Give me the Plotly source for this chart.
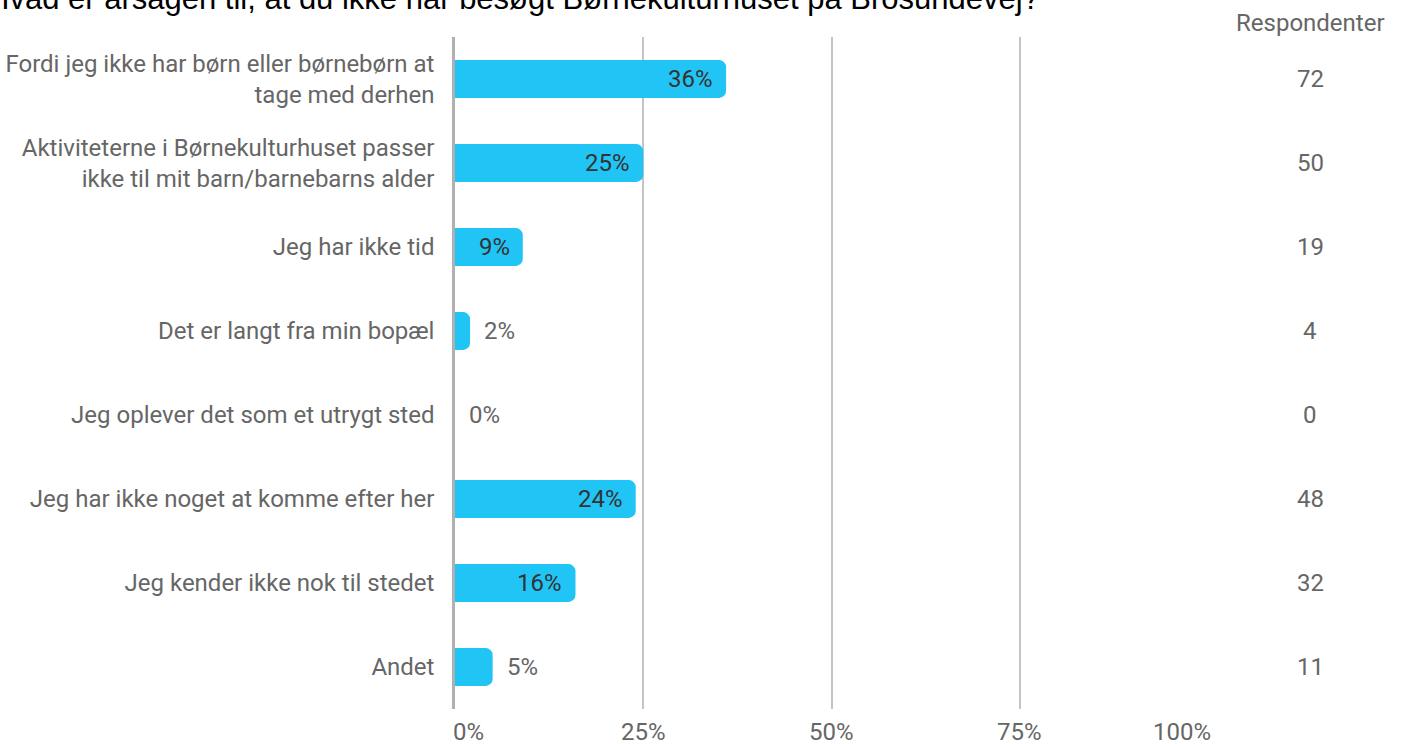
import plotly.graph_objects as go

categories = [
    "Fordi jeg ikke har børn eller børnebørn at<br>tage med derhen",
    "Aktiviteterne i Børnekulturhuset passer<br>ikke til mit barn/barnebarns alder",
    "Jeg har ikke tid",
    "Det er langt fra min bopæl",
    "Jeg oplever det som et utrygt sted",
    "Jeg har ikke noget at komme efter her",
    "Jeg kender ikke nok til stedet",
    "Andet",
]
percent = [36, 25, 9, 2, 0, 24, 16, 5]
respondents = [72, 50, 19, 4, 0, 48, 32, 11]
x_ticks = [0, 25, 50, 75, 100]
x_tick_labels = ["0%", "25%", "50%", "75%", "100%"]
title_text = "Hvad er årsagen til, at du ikke har besøgt Børnekulturhuset på Brosundevej?"

BAR = "#21c5f5"
GREY = "#666666"
FONT = "Roboto"
FS = 24

plot_l, plot_r, plot_t, plot_b = 455, 1208, 37, 709
w = plot_r - plot_l
h = plot_b - plot_t
resp_x = (1310 - plot_l) / w

fig = go.Figure()
fig.add_trace(go.Bar(
    y=categories, x=percent, orientation="h",
    marker=dict(color=BAR, cornerradius=7, line=dict(width=0)),
    width=0.45, hoverinfo="skip",
))

annotations = []
for c, p in zip(categories, percent):
    inside = p >= 9
    annotations.append(dict(
        x=p, y=c, xref="x", yref="y", text=f"{p}%", showarrow=False,
        xanchor="right" if inside else "left",
        xshift=-11 if inside else 12,
        font=dict(family=FONT, size=FS, color="#333333" if inside else GREY),
    ))
for c, r in zip(categories, respondents):
    annotations.append(dict(
        x=resp_x, y=c, xref="paper", yref="y", text=str(r), showarrow=False,
        xanchor="center", font=dict(family=FONT, size=FS, color=GREY),
    ))
# x-axis tick labels: first left-aligned, last right-aligned, others centred
for i, (tv, tl) in enumerate(zip(x_ticks, x_tick_labels)):
    anchor = "left" if i == 0 else ("right" if i == len(x_ticks) - 1 else "center")
    annotations.append(dict(
        x=tv, y=-(732 - plot_b) / h, xref="x", yref="paper", text=tl,
        showarrow=False, xanchor=anchor, yanchor="middle", borderpad=0,
        xshift=-3 if i == 0 else (4 if i == len(x_ticks) - 1 else 0),
        font=dict(family=FONT, size=FS, color=GREY),
    ))
annotations.append(dict(
    x=resp_x, y=1 + (plot_t - 23) / h, xref="paper", yref="paper",
    text="Respondenter", showarrow=False, xanchor="center", yanchor="middle",
    font=dict(family=FONT, size=FS, color=GREY),
))
annotations.append(dict(
    x=(-15 - plot_l) / w, y=1 + (plot_t + 1) / h, xref="paper", yref="paper",
    text=title_text, showarrow=False, xanchor="left", yanchor="middle",
    font=dict(family="Liberation Sans", size=31, color="#000000"),
))

fig.update_layout(
    width=1402, height=744,
    margin=dict(l=plot_l, r=1402 - plot_r, t=plot_t, b=744 - plot_b),
    plot_bgcolor="white", paper_bgcolor="white",
    showlegend=False,
    annotations=annotations,
    font=dict(family=FONT, size=FS, color=GREY),
)
fig.update_xaxes(
    range=[0, 100], tickvals=x_ticks, showticklabels=False,
    showgrid=True, gridcolor="#c4c4c4", gridwidth=1.5, zeroline=False,
    showline=False, ticks="", automargin=False, fixedrange=True,
)
fig.update_yaxes(
    autorange="reversed", showgrid=False, zeroline=False,
    showline=True, linecolor="#b0b0b0", linewidth=2.5, ticks="",
    ticklabelstandoff=13, tickfont=dict(family=FONT, size=FS, color=GREY),
    automargin=False, fixedrange=True,
)
fig.write_html(
    "out.html",
    config={"displayModeBar": False},
    post_script="document.body.style.margin='0';",
)
